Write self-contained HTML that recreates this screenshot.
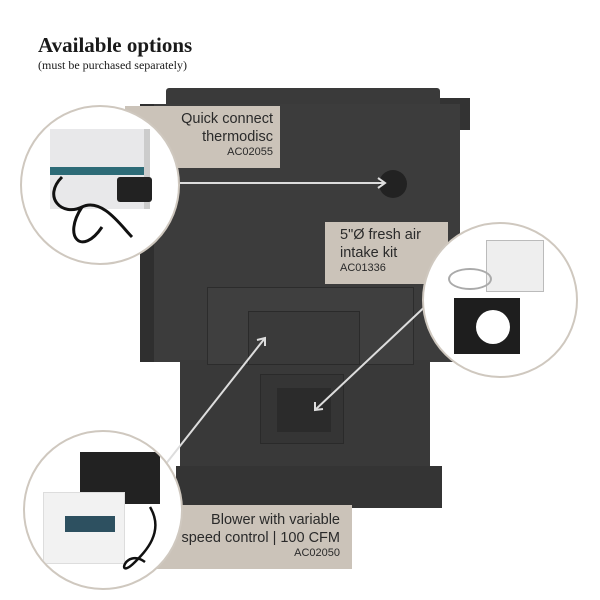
<!DOCTYPE html>
<html><head><style>
body{margin:0;width:600px;height:600px;background:#fff;overflow:hidden;position:relative;font-family:"Liberation Sans",sans-serif}
.a{position:absolute}
.lbl{position:absolute;background:#cbc3b9;color:#2a2a2a;font-size:14.5px;line-height:18px}
.lbl small{font-size:11px;line-height:13px;display:block}
.c{position:absolute;border-radius:50%;background:#fff;border:2px solid #cfc8bf;box-sizing:border-box;overflow:hidden}
</style></head><body>
<div class="a" style="left:38px;top:33px;font:bold 21px 'Liberation Serif',serif;color:#1a1a1a">Available options</div>
<div class="a" style="left:38px;top:58px;font:12px 'Liberation Serif',serif;color:#1a1a1a">(must be purchased separately)</div>

<!-- stove -->
<div class="a" style="left:166px;top:88px;width:274px;height:20px;background:#3a3a3a;border-radius:3px 3px 0 0"></div>
<div class="a" style="left:440px;top:98px;width:30px;height:32px;background:#333"></div>
<div class="a" style="left:140px;top:104px;width:320px;height:258px;background:#3c3c3c"></div>
<div class="a" style="left:140px;top:104px;width:14px;height:258px;background:#2f2f2f"></div>
<div class="a" style="left:180px;top:360px;width:250px;height:110px;background:#393939"></div>
<div class="a" style="left:176px;top:466px;width:266px;height:42px;background:#343434"></div>
<div class="a" style="left:207px;top:287px;width:205px;height:76px;background:#3f3f3f;border:1px solid #2c2c2c"></div>
<div class="a" style="left:248px;top:311px;width:110px;height:52px;background:#3a3a3a;border:1px solid #2a2a2a"></div>
<div class="a" style="left:260px;top:374px;width:82px;height:68px;background:#353535;border:1px solid #2a2a2a"></div>
<div class="a" style="left:277px;top:388px;width:54px;height:44px;background:#2b2b2b"></div>
<div class="a" style="left:379px;top:170px;width:28px;height:28px;border-radius:50%;background:#222"></div>

<svg class="a" style="left:0;top:0" width="600" height="600">
<g stroke="#ddd" stroke-width="2" fill="none">
<line x1="180" y1="183" x2="385" y2="183"/><polyline points="378,178 385,183 378,188"/>
<line x1="432" y1="300" x2="315" y2="410"/><polyline points="315,402 315,410 323,409"/>
<line x1="165" y1="465" x2="265" y2="338"/><polyline points="257,340 265,338 265,346"/>
</g></svg>

<div class="lbl" style="left:125px;top:106px;width:148px;height:58px;padding:4px 7px 0 0;text-align:right">Quick connect<br>thermodisc<small>AC02055</small></div>
<div class="lbl" style="left:325px;top:222px;width:108px;height:58px;padding:4px 0 0 15px">5"Ø fresh air<br>intake kit<small>AC01336</small></div>
<div class="lbl" style="left:130px;top:505px;width:210px;height:58px;padding:6px 12px 0 0;text-align:right">Blower with variable<br>speed control | 100 CFM<small>AC02050</small></div>

<div class="c" style="left:20px;top:105px;width:160px;height:160px">
 <div class="a" style="left:28px;top:22px;width:94px;height:80px;background:#e8e8ea;border-right:6px solid #ccc"></div>
 <div class="a" style="left:28px;top:60px;width:94px;height:8px;background:#2d6b77"></div>
 <div class="a" style="left:95px;top:70px;width:35px;height:25px;background:#222;border-radius:3px"></div>
 <svg class="a" style="left:0;top:0" width="160" height="160"><path d="M40 70 C20 90 40 110 60 100 S100 120 110 130 M60 100 C40 130 60 150 80 120" stroke="#111" stroke-width="3" fill="none"/></svg>
</div>
<div class="c" style="left:422px;top:222px;width:156px;height:156px">
 <div class="a" style="left:62px;top:16px;width:56px;height:50px;background:#eee;border:1px solid #bbb"></div>
 <div class="a" style="left:24px;top:44px;width:40px;height:18px;border:2px solid #aaa;border-radius:50%"></div>
 <div class="a" style="left:30px;top:74px;width:66px;height:56px;background:#1e1e1e"></div>
 <div class="a" style="left:52px;top:86px;width:34px;height:34px;border-radius:50%;background:#fff"></div>
</div>
<div class="c" style="left:23px;top:430px;width:160px;height:160px">
 <div class="a" style="left:55px;top:20px;width:80px;height:52px;background:#222"></div>
 <div class="a" style="left:18px;top:60px;width:80px;height:70px;background:#f2f2f2;border:1px solid #ddd"></div>
 <div class="a" style="left:40px;top:84px;width:50px;height:16px;background:#2d5060"></div>
 <svg class="a" style="left:0;top:0" width="160" height="160"><path d="M125 75 C140 100 120 120 110 130 C90 150 100 115 120 130" stroke="#111" stroke-width="2.5" fill="none"/></svg>
</div>
</body></html>
